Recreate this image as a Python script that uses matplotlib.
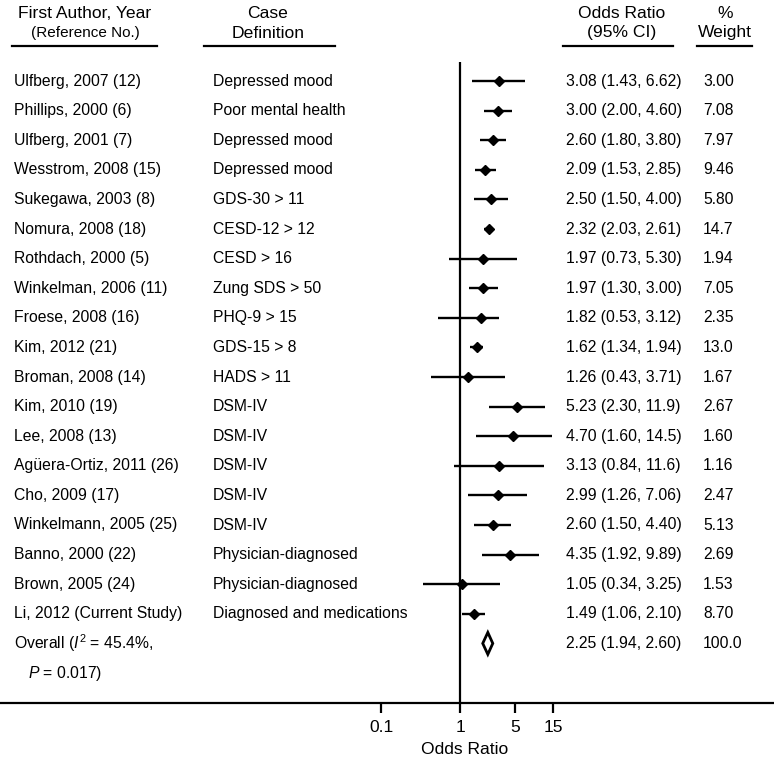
import matplotlib
matplotlib.use("Agg")
import matplotlib.pyplot as plt
import matplotlib.transforms as mtransforms
import numpy as np

plt.rcParams['font.family'] = ['Liberation Sans', 'DejaVu Sans']
plt.rcParams['mathtext.fontset'] = 'custom'
plt.rcParams['mathtext.rm'] = 'Liberation Sans'
plt.rcParams['mathtext.it'] = 'Liberation Sans:italic'

studies = ["Ulfberg, 2007 (12)", "Phillips, 2000 (6)", "Ulfberg, 2001 (7)",
           "Wesstrom, 2008 (15)", "Sukegawa, 2003 (8)", "Nomura, 2008 (18)",
           "Rothdach, 2000 (5)", "Winkelman, 2006 (11)", "Froese, 2008 (16)",
           "Kim, 2012 (21)", "Broman, 2008 (14)", "Kim, 2010 (19)",
           "Lee, 2008 (13)", "Agüera-Ortiz, 2011 (26)", "Cho, 2009 (17)",
           "Winkelmann, 2005 (25)", "Banno, 2000 (22)", "Brown, 2005 (24)",
           "Li, 2012 (Current Study)"]
definitions = ["Depressed mood", "Poor mental health", "Depressed mood",
               "Depressed mood", "GDS-30 > 11", "CESD-12 > 12", "CESD > 16",
               "Zung SDS > 50", "PHQ-9 > 15", "GDS-15 > 8", "HADS > 11",
               "DSM-IV", "DSM-IV", "DSM-IV", "DSM-IV", "DSM-IV",
               "Physician-diagnosed", "Physician-diagnosed",
               "Diagnosed and medications"]
odds = [3.08, 3.00, 2.60, 2.09, 2.50, 2.32, 1.97, 1.97, 1.82, 1.62, 1.26,
        5.23, 4.70, 3.13, 2.99, 2.60, 4.35, 1.05, 1.49]
ci_low = [1.43, 2.00, 1.80, 1.53, 1.50, 2.03, 0.73, 1.30, 0.53, 1.34, 0.43,
          2.30, 1.60, 0.84, 1.26, 1.50, 1.92, 0.34, 1.06]
ci_high = [6.62, 4.60, 3.80, 2.85, 4.00, 2.61, 5.30, 3.00, 3.12, 1.94, 3.71,
           11.9, 14.5, 11.6, 7.06, 4.40, 9.89, 3.25, 2.10]
weights = [3.00, 7.08, 7.97, 9.46, 5.80, 14.7, 1.94, 7.05, 2.35, 13.0, 1.67,
           2.67, 1.60, 1.16, 2.47, 5.13, 2.69, 1.53, 8.70]
overall = (2.25, 1.94, 2.60)
overall_weight = 100.0
xticks = [0.1, 1, 5, 15]
xtick_labels = ["0.1", "1", "5", "15"]

W, H = 774, 757
fig = plt.figure(figsize=(W / 100, H / 100), dpi=100)

def fx(px):
    return px / W

def fy(py):
    return 1 - py / H

# axes spans full width; x=1 at 460px, 79 px per decade
px_per_dec = 79.0
x1_px = 460.0
axis_bottom_px = 703.0
ax = fig.add_axes([0, fy(axis_bottom_px), 1, axis_bottom_px / H])
ax.set_xscale('log')
ax.set_xlim(10 ** ((0 - x1_px) / px_per_dec), 10 ** ((W - x1_px) / px_per_dec))
row0_px, row_step = 81.0, 29.6
ax.set_ylim((axis_bottom_px - row0_px) / row_step, (0 - row0_px) / row_step)

for s in ['top', 'left', 'right']:
    ax.spines[s].set_visible(False)
ax.spines['bottom'].set_linewidth(1.6)
ax.set_yticks([])
ax.set_xticks(xticks)
ax.set_xticklabels(xtick_labels, fontsize=12.5)
ax.xaxis.set_minor_locator(matplotlib.ticker.NullLocator())
ax.tick_params(axis='x', direction='out', length=7.5, width=1.6, pad=5)
ax.patch.set_alpha(0)

ypos = np.arange(len(studies))
# reference line
ax.plot([1, 1], [(62 - row0_px) / row_step, ax.get_ylim()[0]], color='black',
        lw=1.6, solid_capstyle='butt', clip_on=False)

ax.hlines(ypos, ci_low, ci_high, color='black', lw=1.7)
ax.plot(odds, ypos, linestyle='none', marker='D', ms=4.8, color='black')

yo = len(studies)
est, lo, hi = overall
dh = 0.37
ax.fill([lo, est, hi, est], [yo, yo - dh, yo, yo + dh], facecolor='white',
        edgecolor='black', lw=2)

tr = mtransforms.blended_transform_factory(fig.transFigure, ax.transData)

def fmt(v):
    return f"{v:.2f}" if v < 10 else f"{v:.1f}"

fs = 11.3
hfs = 12.6
for i in range(len(studies)):
    ax.text(fx(14), i, studies[i], transform=tr, va='center', ha='left', fontsize=fs)
    ax.text(fx(213), i, definitions[i], transform=tr, va='center', ha='left', fontsize=fs)
    ax.text(fx(566), i, f"{fmt(odds[i])} ({fmt(ci_low[i])}, {fmt(ci_high[i])})",
            transform=tr, va='center', ha='left', fontsize=fs)
    ax.text(fx(703), i, fmt(weights[i]), transform=tr, va='center', ha='left', fontsize=fs)

ax.text(fx(14), yo, r"Overall ($\mathit{I}^{2}$ = 45.4%,", transform=tr,
        va='center', ha='left', fontsize=fs)
ax.text(fx(28), yo + 1, r"$\mathit{P}$ = 0.017)", transform=tr,
        va='center', ha='left', fontsize=fs)
ax.text(fx(566), yo, f"{fmt(est)} ({fmt(lo)}, {fmt(hi)})", transform=tr,
        va='center', ha='left', fontsize=fs)
ax.text(fx(703), yo, f"{overall_weight:.1f}", transform=tr, va='center',
        ha='left', fontsize=fs)

# headers
headers = [
    (85, "First Author, Year", "(Reference No.)", 12, 157),
    (268, "Case", "Definition", 204, 335),
    (622, "Odds Ratio", "(95% CI)", 563, 673),
    (725, "%", "Weight", 697, 752),
]
for cx, l1, l2, u0, u1 in headers:
    fig.text(fx(cx), fy(13), l1, ha='center', va='center', fontsize=hfs)
    fig.text(fx(cx), fy(33), l2, ha='center', va='center',
             fontsize=11 if l2.startswith("(Ref") else hfs)
    fig.add_artist(matplotlib.lines.Line2D([fx(u0), fx(u1)], [fy(46), fy(46)],
                                           color='black', lw=1.6,
                                           transform=fig.transFigure))

fig.text(fx(465), fy(749), "Odds Ratio", ha='center', va='center', fontsize=hfs)

fig.savefig("out.png", dpi=100)
